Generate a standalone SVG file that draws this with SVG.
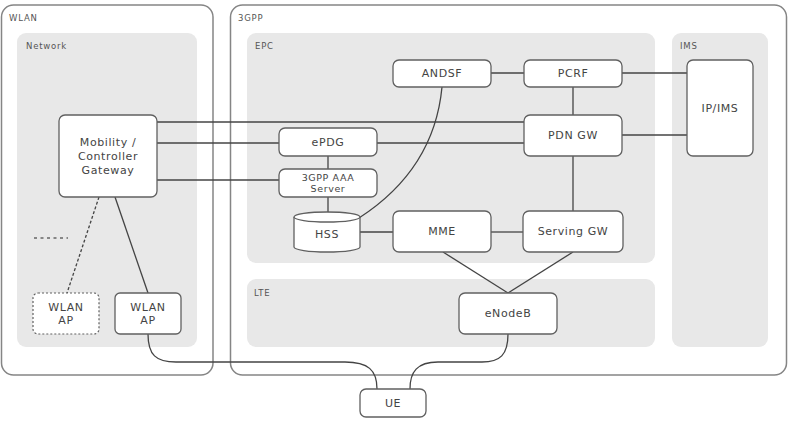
<svg xmlns="http://www.w3.org/2000/svg" width="788" height="423" viewBox="0 0 788 423">
<style>
.outer{fill:#fff;stroke:#858585;stroke-width:1.5}
.panel{fill:#e8e8e8;stroke:none}
.box{fill:#fff;stroke:#606060;stroke-width:1.3}
.dbox{fill:#fff;stroke:#606060;stroke-width:1.2;stroke-dasharray:2,2}
.lbl{font-family:"DejaVu Sans",sans-serif;font-size:8.5px;fill:#555;letter-spacing:0.8px}
.t{font-family:"DejaVu Sans",sans-serif;font-size:11px;fill:#444;text-anchor:middle;letter-spacing:0.6px}
.ts{font-family:"DejaVu Sans",sans-serif;font-size:9.5px;fill:#444;text-anchor:middle;letter-spacing:0.6px}
.ln{fill:none;stroke:#444;stroke-width:1.3}
</style>
<rect width="788" height="423" fill="#fff"/>
<g id="wlan">
<rect class="outer" x="1.5" y="5" width="211.5" height="370" rx="12"/>
<text class="lbl" x="9" y="21">WLAN</text>
</g>
<g id="g3gpp">
<rect class="outer" x="230.5" y="5" width="556" height="370" rx="12"/>
<text class="lbl" x="238" y="21">3GPP</text>
</g>
<g id="network">
<rect class="panel" x="17" y="33" width="180" height="314" rx="9"/>
<text class="lbl" x="26" y="49">Network</text>
</g>
<g id="epc">
<rect class="panel" x="247" y="33" width="408" height="230" rx="9"/>
<text class="lbl" x="255" y="49">EPC</text>
</g>
<g id="lte">
<rect class="panel" x="247" y="279" width="408" height="68" rx="9"/>
<text class="lbl" x="254" y="296">LTE</text>
</g>
<g id="ims">
<rect class="panel" x="672" y="33" width="96" height="314" rx="9"/>
<text class="lbl" x="680" y="49">IMS</text>
</g>
<g id="connectors">
<path class="ln" d="M157,122 H524"/>
<path class="ln" d="M157,143 H279"/>
<path class="ln" d="M377,143 H524"/>
<path class="ln" d="M157,180 H279"/>
<path class="ln" d="M328,156 V169"/>
<path class="ln" d="M328,197 V212"/>
<path class="ln" d="M442,87 C437,140 410,185 359,218"/>
<path class="ln" d="M491,73 H524"/>
<path class="ln" d="M622,73 H687"/>
<path class="ln" d="M573,87 V115"/>
<path class="ln" d="M622,135 H687"/>
<path class="ln" d="M573,156 V211"/>
<path class="ln" d="M360,232 H393"/>
<path class="ln" d="M491,232 H523"/>
<path class="ln" d="M443,252 L508,293"/>
<path class="ln" d="M573,252 L508,293"/>
<path class="ln" d="M99,197 L67,293" stroke-dasharray="3,2"/>
<path class="ln" d="M115,197 L148,293"/>
<path class="ln" d="M148,334 C148,355 156,362 176,362 L345,362 C368,362 377,370 377,389"/>
<path class="ln" d="M508,334 C508,355 500,362 482,362 L438,362 C417,362 410,372 410,389"/>
<path d="M34,238 H68" stroke="#666" stroke-width="1.3" stroke-dasharray="3,3.5" fill="none"/>
</g>
<g id="mobility">
<rect class="box" x="59" y="115" width="98" height="82" rx="6"/>
<text class="t" x="108" y="146">Mobility /</text>
<text class="t" x="108" y="160">Controller</text>
<text class="t" x="108" y="174">Gateway</text>
</g>
<g id="wlanap1">
<rect class="dbox" x="33" y="293" width="66" height="41" rx="5"/>
<text class="t" x="66" y="311">WLAN</text>
<text class="t" x="66" y="324">AP</text>
</g>
<g id="wlanap2">
<rect class="box" x="115" y="293" width="66" height="41" rx="5"/>
<text class="t" x="148" y="311">WLAN</text>
<text class="t" x="148" y="324">AP</text>
</g>
<g id="andsf">
<rect class="box" x="393" y="60" width="98" height="27" rx="6"/>
<text class="t" x="442" y="77">ANDSF</text>
</g>
<g id="pcrf">
<rect class="box" x="524" y="60" width="98" height="27" rx="6"/>
<text class="t" x="573" y="77">PCRF</text>
</g>
<g id="ipims">
<rect class="box" x="687" y="60" width="66" height="96" rx="6"/>
<text class="t" x="720" y="112">IP/IMS</text>
</g>
<g id="epdg">
<rect class="box" x="279" y="128" width="98" height="28" rx="6"/>
<text class="t" x="328" y="146">ePDG</text>
</g>
<g id="pdngw">
<rect class="box" x="524" y="115" width="98" height="41" rx="6"/>
<text class="t" x="573" y="139">PDN GW</text>
</g>
<g id="aaa">
<rect class="box" x="279" y="169" width="98" height="28" rx="6"/>
<text class="ts" x="328" y="180.5">3GPP AAA</text>
<text class="ts" x="328" y="192">Server</text>
</g>
<g id="hss">
<path class="box" d="M294,217 V247 A33,5 0 0 0 360,247 V217 A33,5 0 0 0 294,217 Z"/>
<path class="box" d="M294,217 A33,5 0 0 0 360,217" fill="none"/>
<text class="t" x="327" y="238">HSS</text>
</g>
<g id="mme">
<rect class="box" x="393" y="211" width="98" height="41" rx="6"/>
<text class="t" x="442" y="235">MME</text>
</g>
<g id="sgw">
<rect class="box" x="523" y="211" width="100" height="41" rx="6"/>
<text class="t" x="573" y="235">Serving GW</text>
</g>
<g id="enodeb">
<rect class="box" x="459" y="293" width="98" height="41" rx="6"/>
<text class="t" x="508" y="317">eNodeB</text>
</g>
<g id="ue">
<rect class="box" x="360" y="389" width="66" height="28" rx="6"/>
<text class="t" x="393" y="407">UE</text>
</g>
</svg>
